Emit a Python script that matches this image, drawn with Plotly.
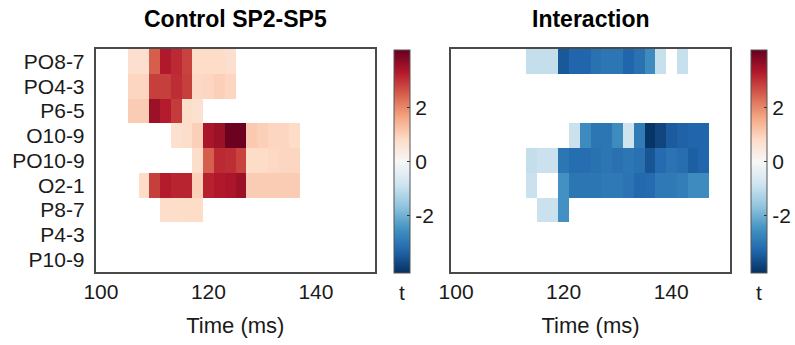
import plotly.graph_objects as go

N = None
times = list(range(100, 152, 2))
channels = ["PO8-7", "PO4-3", "P6-5", "O10-9", "PO10-9", "O2-1", "P8-7", "P4-3", "P10-9"]
tick_vals = [100, 120, 140]
cbar_ticks = [-2, 0, 2]

# t-values, one row per channel, one column per time bin (100..150 ms, 2 ms step)
control_PO8_7 = [N]*3 + [0.7, 0.7, 2.5, 3.3, 3.1, 2.8, 0.8, 0.8, 0.8, 0.7] + [N]*13
control_PO4_3 = [N]*3 + [0.9, 0.9, 2.85, 2.85, 3.05, 2.85, 0.85, 0.9, 1.0, 0.9] + [N]*13
control_P6_5 = [N]*3 + [1.05, 1.05, 3.55, 3.25, 2.9, 0.75, 0.65] + [N]*16
control_O10_9 = [N]*7 + [0.65, 0.75, 1.0, 3.4, 3.55, 4.05, 4.05, 1.1, 1.0, 0.9, 0.9, 0.8] + [N]*7
control_PO10_9 = [N]*9 + [0.75, 2.5, 3.1, 3.05, 2.8, 0.8, 0.8, 0.85, 0.9, 0.9] + [N]*7
control_O2_1 = [N]*4 + [0.8, 2.85, 3.25, 3.15, 3.15, 1.0, 3.2, 3.3, 3.35, 3.55, 1.05, 1.05, 1.05, 1.05, 1.05] + [N]*7
control_P8_7 = [N]*6 + [0.75, 0.75, 0.8, 0.8] + [N]*16
control_P4_3 = [N]*26
control_P10_9 = [N]*26

inter_PO8_7 = [N]*7 + [-1.0, -1.0, -1.0, -3.5, -3.3, -3.3, -3.1, -3.0, -3.0, -3.3, -3.1, -2.6, -0.95, N, -0.95] + [N]*4
inter_PO4_3 = [N]*26
inter_P6_5 = [N]*26
inter_O10_9 = [N]*11 + [-0.9, -2.6, -3.0, -3.0, -2.6, -0.85, -2.9, -4.05, -3.8, -3.45, -3.35, -3.3, -3.3] + [N]*2
inter_PO10_9 = [N]*7 + [-1.0, -0.9, -0.9, -3.0, -3.15, -3.15, -3.1, -3.0, -3.1, -3.0, -3.1, -3.55, -3.2, -3.05, -3.15, -3.4, -3.3] + [N]*2
inter_O2_1 = [N]*7 + [-0.9, N, N, -2.5, -3.0, -3.0, -3.0, -2.95, -2.95, -3.05, -3.25, -3.2, -2.95, -2.95, -2.85, -2.6, -2.6] + [N]*2
inter_P8_7 = [N]*8 + [-0.9, -0.9, -2.5] + [N]*15
inter_P4_3 = [N]*26
inter_P10_9 = [N]*26

control_z = [control_PO8_7, control_PO4_3, control_P6_5, control_O10_9, control_PO10_9,
             control_O2_1, control_P8_7, control_P4_3, control_P10_9]
inter_z = [inter_PO8_7, inter_PO4_3, inter_P6_5, inter_O10_9, inter_PO10_9,
           inter_O2_1, inter_P8_7, inter_P4_3, inter_P10_9]

rdbu = ["#053061", "#2166ac", "#4393c3", "#92c5de", "#d1e5f0", "#f7f7f7",
        "#fddbc7", "#f4a582", "#d6604d", "#b2182b", "#67001f"]
cscale = [[i / 10, c] for i, c in enumerate(rdbu)]

W, H = 795, 345
FONT = "Liberation Sans, Arial, Helvetica, sans-serif"
FS = 21
ZMAX = 4.12
TXT = "#1a1a1a"

def px_x(p):
    return p / W

def px_y(p):
    return 1 - p / H

def cbar(xpix):
    return dict(
        x=px_x(xpix), xanchor="left", xpad=0,
        y=px_y(50), yanchor="top", ypad=0,
        len=223, lenmode="pixels", thickness=16, thicknessmode="pixels",
        outlinewidth=1, outlinecolor="#555",
        tickvals=cbar_ticks, ticktext=[str(v) for v in cbar_ticks],
        ticks="inside", ticklen=3, tickcolor="#333",
        tickfont=dict(family=FONT, size=FS, color=TXT),
    )

fig = go.Figure()
fig.add_trace(go.Heatmap(x=times, y=channels, z=control_z, colorscale=cscale,
                         zmin=-ZMAX, zmax=ZMAX, xaxis="x", yaxis="y",
                         colorbar=cbar(396), hoverongaps=False))
fig.add_trace(go.Heatmap(x=times, y=channels, z=inter_z, colorscale=cscale,
                         zmin=-ZMAX, zmax=ZMAX, xaxis="x2", yaxis="y2",
                         colorbar=cbar(755), hoverongaps=False))

axis_common = dict(showline=True, mirror=True, linecolor="#4a4a4a", linewidth=1.5,
                   showgrid=False, zeroline=False, ticks="",
                   tickfont=dict(family=FONT, size=FS, color=TXT))
ydom = [px_y(272), px_y(49)]
xtitle = dict(text="Time (ms)", standoff=16, font=dict(family=FONT, size=22, color=TXT))

def label(text, xpix, ypix, size, bold=False, color=TXT):
    return dict(text=f"<b>{text}</b>" if bold else text, x=px_x(xpix), y=px_y(ypix),
                xref="paper", yref="paper", xanchor="center", yanchor="middle",
                showarrow=False, font=dict(family=FONT, size=size, color=color))

fig.update_layout(
    width=W, height=H,
    margin=dict(l=0, r=0, t=0, b=0),
    paper_bgcolor="white", plot_bgcolor="white",
    font=dict(family=FONT, size=FS, color=TXT),
    xaxis=dict(domain=[px_x(96), px_x(377)], anchor="y", range=[99, 151],
               tickmode="array", tickvals=tick_vals, ticklabelstandoff=0,
               title=xtitle, automargin=False, **axis_common),
    yaxis=dict(domain=ydom, anchor="x", type="category", categoryorder="array",
               categoryarray=channels, range=[8.5, -0.5], tickmode="array",
               tickvals=channels, ticktext=channels, ticklabelstandoff=5,
               automargin=False, **axis_common),
    xaxis2=dict(domain=[px_x(453), px_x(734)], anchor="y2", range=[99, 151],
                tickmode="array", tickvals=tick_vals, ticklabelstandoff=0,
                title=xtitle, automargin=False, **axis_common),
    yaxis2=dict(domain=ydom, anchor="x2", type="category", categoryorder="array",
                categoryarray=channels, range=[8.5, -0.5], showticklabels=False,
                automargin=False, **axis_common),
    annotations=[
        label("Control SP2-SP5", 236.5, 19, 23, bold=True, color="#000"),
        label("Interaction", 593.5, 19, 23, bold=True, color="#000"),
        label("t", 404, 292, FS),
        label("t", 763, 292, FS),
    ],
)

fig.write_html("out.html")
